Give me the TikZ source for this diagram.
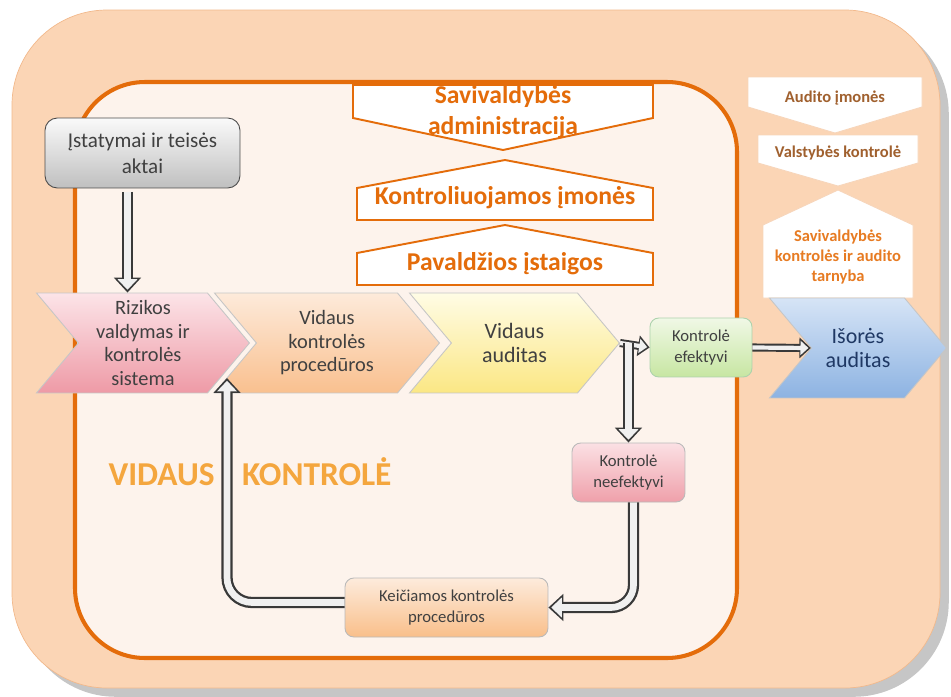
\documentclass[tikz,border=0pt]{standalone}
\usepackage{fontspec}
\setmainfont{Carlito}
\usetikzlibrary{shapes.symbols, arrows.meta, shadows}

\definecolor{peach}{HTML}{FBD5B5}
\definecolor{peachline}{HTML}{F2B98C}
\definecolor{paper}{HTML}{FDF3EC}
\definecolor{rust}{HTML}{E46C0A}
\definecolor{brownish}{HTML}{A0602E}
\definecolor{darkblue}{HTML}{1F3864}
\definecolor{glow}{HTML}{F4A63E}

\tikzset{
  chevron/.style={signal, signal from=west, signal to=east, signal pointer angle=100,
    minimum height=2cm, draw=gray!45, line width=0.5pt, align=center,
    font=\fontsize{11.6}{13.4}\selectfont, text=black!75},
  bannerline/.style={fill=white, draw=rust, line width=1.1pt, line join=miter},
  bannertext/.style={align=center, text=rust, font=\bfseries\fontsize{14.6}{17.6}\selectfont},
  tagline/.style={fill=white, draw=peachline!60!white, line width=0.5pt},
  tagtext/.style={align=center, text=brownish, font=\bfseries\fontsize{9.4}{11.4}\selectfont},
  box/.style={rectangle, rounded corners=5pt, draw=gray!55, line width=0.5pt, align=center,
    font=\fontsize{9.5}{12}\selectfont, text=black!75, minimum height=1.18cm},
  hollow/.style={draw=gray!12, line width=3.8pt, shorten >=1.6pt,
    -{Triangle[length=6pt,width=11pt]},
    preaction={draw=gray!45!black, line width=6.4pt, shorten >=0pt,
      -{Triangle[length=8.5pt,width=15pt]}}},
  hollowsmall/.style={draw=gray!12, line width=2.4pt, shorten >=1.4pt,
    -{Triangle[length=4.5pt,width=8pt]},
    preaction={draw=gray!45!black, line width=4.6pt, shorten >=0pt,
      -{Triangle[length=6.5pt,width=11.5pt]}}}
}

\begin{document}
\begin{tikzpicture}[x=0.02cm, y=-0.02cm]
\useasboundingbox (0,0) rectangle (951,697);

% frames
\draw [draw=peachline, fill=peach, rounded corners=1.9cm,
  drop shadow={shadow xshift=5pt, shadow yshift=-5pt, opacity=0.45}] (12,10) rectangle (940,688);
\draw [draw=rust, line width=2.3pt, fill=paper, rounded corners=1.4cm] (75,82) rectangle (737,658);

% top banners
\draw [bannerline] (353,85) -- (653,85) -- (653,118) -- (503,150) -- (353,118) -- cycle;
\draw [bannerline] (357,220) -- (357,188) -- (505,160) -- (653,188) -- (653,220) -- cycle;
\draw [bannerline] (357,285) -- (357,253) -- (505,225) -- (653,253) -- (653,285) -- cycle;
\node (admin) [bannertext] at (503,112) {Savivaldybės\\administracija};
\node (firms) [bannertext] at (505,198) {Kontroliuojamos įmonės};
\node (subord) [bannertext] at (505,264) {Pavaldžios įstaigos};

% right column
\draw [tagline] (748,77) -- (922,77) -- (922,107) -- (835,133) -- (748,107) -- cycle;
\draw [tagline] (758,135) -- (918,135) -- (918,163) -- (838,186) -- (758,163) -- cycle;
\draw [tagline] (763,298) -- (763,225) -- (838,190) -- (913,225) -- (913,298) -- cycle;
\node (audfirm) [tagtext] at (835,98) {Audito įmonės};
\node (state) [tagtext] at (838,153) {Valstybės kontrolė};
\node (munic) [tagtext, text=rust!90!white] at (838,257) {Savivaldybės\\kontrolės ir audito\\tarnyba};

% laws
\node (laws) [box, top color=gray!4, bottom color=gray!50, draw=gray!60!black, rounded corners=7pt,
  minimum width=3.9cm, minimum height=1.4cm, font=\fontsize{12}{14.6}\selectfont] at (142.5,153) {Įstatymai ir teisės\\aktai};

% chevrons
\node (riz) [chevron, minimum width=4.26cm, top color={rgb,255:red,252;green,228;blue,232}, bottom color={rgb,255:red,238;green,154;blue,166}, anchor=east] at (250,343) {Rizikos\\valdymas ir\\kontrolės\\sistema};
\node (vkp) [chevron, minimum width=4.5cm, top color={rgb,255:red,253;green,234;blue,218}, bottom color={rgb,255:red,249;green,192;blue,143}, anchor=east] at (440,343) {Vidaus\\kontrolės\\procedūros};
\node (vaudit) [chevron, minimum width=4.2cm, top color={rgb,255:red,255;green,252;blue,229}, bottom color={rgb,255:red,251;green,231;blue,132}, anchor=east, font=\fontsize{12.5}{14}\selectfont] at (620,343) {Vidaus\\auditas};
\node (isores) [chevron, minimum width=3.54cm, top color={rgb,255:red,214;green,228;blue,246}, bottom color={rgb,255:red,141;green,179;blue,226}, text=darkblue, anchor=east, font=\fontsize{12.5}{14}\selectfont] at (947,348) {Išorės\\auditas};

% result boxes
\node (efekt) [box, minimum width=2.04cm, top color={rgb,255:red,240;green,248;blue,230}, bottom color={rgb,255:red,199;green,230;blue,162}, draw=green!30!gray!50] at (701,347.5) {Kontrolė\\efektyvi};
\node (neef) [box, minimum width=2.26cm, top color={rgb,255:red,251;green,224;blue,228}, bottom color={rgb,255:red,239;green,160;blue,170}] at (628.5,472.5) {Kontrolė\\neefektyvi};
\node (keic) [box, minimum width=4.06cm, top color={rgb,255:red,253;green,235;blue,220}, bottom color={rgb,255:red,249;green,191;blue,138}] at (446.5,607.5) {Keičiamos kontrolės\\procedūros};

\node (title) [text=glow, font=\bfseries\fontsize{19}{22}\selectfont] at (250,472) {VIDAUS\hspace{0.55cm}KONTROLĖ};

\coordinate (loopend) at (227,378);

% connectors
\draw [hollow] ([xshift=-0.3cm, yshift=-2pt]laws.south) -- ([xshift=-0.3cm]laws.south |- riz.north);
\draw [hollowsmall] (vaudit.east) -- (efekt.west);
\draw [hollow] (neef.north |- vaudit.east) -- (neef.north);
\draw [hollowsmall] (efekt.east) -- (isores.west);
\draw [hollow, rounded corners=0.45cm] ([xshift=0.1cm]neef.south) |- (keic.east);
\draw [hollow, rounded corners=0.5cm] ([yshift=0.1cm]keic.west) -| (loopend);

\end{tikzpicture}
\end{document}
